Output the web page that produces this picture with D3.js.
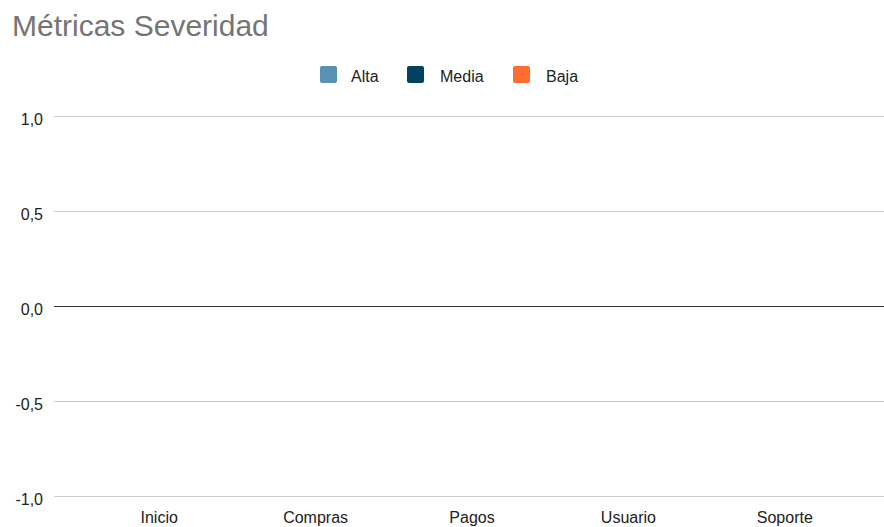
<!DOCTYPE html>
<html>
<head>
<meta charset="utf-8">
<script src="https://cdn.jsdelivr.net/npm/d3@7"></script>
<style>
  html, body { margin: 0; padding: 0; background: #fff; }
  svg { display: block; }
  text { font-family: "Liberation Sans", Arial, sans-serif; }
</style>
</head>
<body>
<svg id="chart" width="884" height="527"></svg>
<script>
// Chart data
const categories = ["Inicio", "Compras", "Pagos", "Usuario", "Soporte"];
const seriesNames = ["Alta", "Media", "Baja"];
const alta = [0, 0, 0, 0, 0];
const media = [0, 0, 0, 0, 0];
const baja = [0, 0, 0, 0, 0];
const yTicks = [-1, -0.5, 0, 0.5, 1];
const colors = ["#5891b1", "#01435f", "#ff6d31"];

const seriesValues = [alta, media, baja];
const FONT = '"Liberation Sans", Arial, sans-serif';
const svg = d3.select("#chart");

// Plot area
const gridLeft = 54, gridRight = 884;
const bandLeft = 81, bandRight = 863;
const plotTop = 116, plotBottom = 496;

const y = d3.scaleLinear().domain([-1, 1]).range([plotBottom, plotTop]);
const x = d3.scaleBand().domain(categories).range([bandLeft, bandRight]).paddingInner(0.3).paddingOuter(0.15);
const xInner = d3.scaleBand().domain(seriesNames).range([0, x.bandwidth()]).padding(0.05);

// Title
svg.append("text")
  .attr("x", 12).attr("y", 36)
  .attr("font-size", 30).attr("fill", "#757575")
  .text("Métricas Severidad");

// Legend
const legendItems = [
  { name: "Alta", sx: 320, tx: 351 },
  { name: "Media", sx: 407, tx: 440 },
  { name: "Baja", sx: 513, tx: 546 }
];
const legend = svg.append("g");
legendItems.forEach((d, i) => {
  legend.append("rect")
    .attr("x", d.sx).attr("y", 66).attr("width", 17).attr("height", 17)
    .attr("rx", 2).attr("fill", colors[i]);
  legend.append("text")
    .attr("x", d.tx).attr("y", 81.5)
    .attr("font-size", 16).attr("fill", "#222")
    .text(d.name);
});

// Gridlines
const fmt = v => d3.format(".1f")(v).replace(".", ",").replace("−", "-");
svg.append("g").selectAll("line")
  .data(yTicks.filter(v => v !== 0))
  .join("line")
  .attr("x1", gridLeft).attr("x2", gridRight)
  .attr("y1", d => Math.round(y(d)) + 0.5).attr("y2", d => Math.round(y(d)) + 0.5)
  .attr("stroke", "#cccccc").attr("stroke-width", 1);

// Y axis labels
const yAxis = d3.axisLeft(y).tickValues(yTicks).tickFormat(fmt).tickSize(0).tickPadding(0);
const yG = svg.append("g").attr("transform", `translate(${gridLeft - 11},0)`).call(yAxis);
yG.select(".domain").remove();
yG.selectAll("text")
  .attr("font-size", 16).attr("fill", "#222")
  .attr("font-family", FONT)
  .attr("dy", "0.52em");

// Bars (grouped by category)
const groups = svg.append("g").selectAll("g")
  .data(categories)
  .join("g")
  .attr("transform", d => `translate(${x(d)},0)`);
groups.selectAll("rect")
  .data((c, ci) => seriesNames.map((s, si) => ({ s, si, v: seriesValues[si][ci] })))
  .join("rect")
  .attr("x", d => xInner(d.s))
  .attr("width", xInner.bandwidth())
  .attr("y", d => y(Math.max(0, d.v)))
  .attr("height", d => Math.abs(y(d.v) - y(0)))
  .attr("fill", d => colors[d.si]);

// Baseline at zero
svg.append("line")
  .attr("x1", gridLeft).attr("x2", gridRight)
  .attr("y1", Math.round(y(0)) + 0.5).attr("y2", Math.round(y(0)) + 0.5)
  .attr("stroke", "#333333").attr("stroke-width", 1);

// X axis labels
const xAxis = d3.axisBottom(x).tickSize(0).tickPadding(0);
const xG = svg.append("g").attr("transform", `translate(0,${plotBottom})`).call(xAxis);
xG.select(".domain").remove();
xG.selectAll("text")
  .attr("font-size", 16).attr("fill", "#222")
  .attr("font-family", FONT)
  .attr("y", 27).attr("dy", 0);
</script>
</body>
</html>
